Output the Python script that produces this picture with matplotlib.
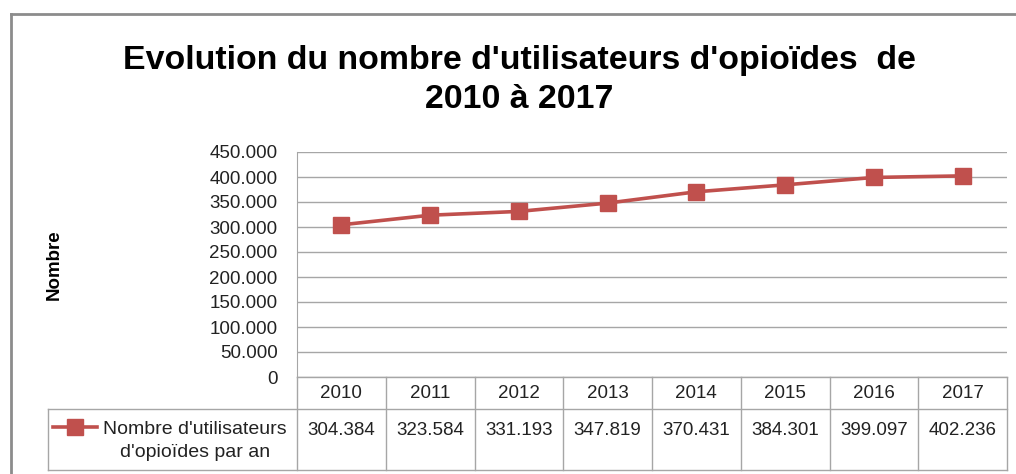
"""Excel-style line chart with data table: opioid users per year, 2010-2017."""

import numpy as np
import matplotlib
matplotlib.use("Agg")
import matplotlib.pyplot as plt
from matplotlib import font_manager
from matplotlib.lines import Line2D
from matplotlib.transforms import blended_transform_factory
from matplotlib.ticker import FuncFormatter

# ── data ────────────────────────────────────────────────────────────────
years = ["2010", "2011", "2012", "2013", "2014", "2015", "2016", "2017"]
users = [304384, 323584, 331193, 347819, 370431, 384301, 399097, 402236]
series_label = "Nombre d'utilisateurs\nd'opioïdes par an"
title = "Evolution du nombre d'utilisateurs d'opioïdes  de\n2010 à 2017"
ylabel = "Nombre"

# ── style ───────────────────────────────────────────────────────────────
RED = "#C0504D"
GRID = "#A6A6A6"
W, H = 1016, 474

avail = {f.name for f in font_manager.fontManager.ttflist}
BODY = "Liberation Sans" if "Liberation Sans" in avail else "DejaVu Sans"
TITLE_FONT = "Liberation Sans Narrow" if "Liberation Sans Narrow" in avail else BODY
plt.rcParams["font.family"] = [BODY, "DejaVu Sans"]


def fmt(v):
    return f"{int(v):,}".replace(",", ".")


def px(x, y):
    """pixel (from top-left) -> figure fraction"""
    return x / W, 1 - y / H


fig = plt.figure(figsize=(W / 100, H / 100), dpi=100)

# plot area in pixels: x 297..1007, y 152..377
L, R, T, B = 297, 1007, 152, 377
ax = fig.add_axes([L / W, 1 - B / H, (R - L) / W, (B - T) / H])

x = np.arange(len(years))
ax.plot(x, users, color=RED, lw=2.6, marker="s", ms=12, mec=RED, mfc=RED, zorder=3)

ax.set_xlim(-0.5, len(years) - 0.5)
ax.set_ylim(0, 450000)
ax.set_yticks(np.arange(0, 450001, 50000))
ax.yaxis.set_major_formatter(FuncFormatter(lambda v, _: fmt(v)))
ax.tick_params(axis="y", length=0, pad=14, labelsize=13.5, labelcolor="#222222")
ax.set_xticks([])
ax.grid(axis="y", color=GRID, lw=1)
for s in ["top", "right", "bottom"]:
    ax.spines[s].set_visible(False)
ax.spines["left"].set_color(GRID)
ax.set_ylabel(ylabel, fontsize=13.5, fontweight="bold", labelpad=0)
ax.yaxis.set_label_coords(-(L - 63) / (R - L), 0.5)

# ── data table below the axes ───────────────────────────────────────────
tr = blended_transform_factory(ax.transData, ax.transAxes)
ph = B - T
row1 = -(409 - B) / ph          # bottom of year row
row2 = -(470 - B) / ph          # bottom of value row
leg_x = -0.5 - (L - 48) / ((R - L) / len(years))

tbl = dict(color=GRID, lw=1, transform=tr, clip_on=False)
ax.add_line(Line2D([-0.5, len(years) - 0.5], [0, 0], **tbl))
ax.add_line(Line2D([leg_x, len(years) - 0.5], [row1, row1], **tbl))
ax.add_line(Line2D([leg_x, len(years) - 0.5], [row2, row2], **tbl))
ax.add_line(Line2D([leg_x, leg_x], [row1, row2], **tbl))
for i in range(len(years) + 1):
    ax.add_line(Line2D([i - 0.5, i - 0.5], [0, row2], **tbl))

for i, (yr, v) in enumerate(zip(years, users)):
    ax.text(i, row1 / 2, yr, transform=tr, ha="center", va="center",
            fontsize=13.5, color="#222222")
    ax.text(i, -(431 - B) / ph, fmt(v), transform=tr, ha="center", va="center",
            fontsize=13.5, color="#222222")

# legend key inside the table
ky = -(427 - B) / ph
kx0 = leg_x + (53 - 48) / 88.75
kx1 = leg_x + (97 - 48) / 88.75
ax.add_line(Line2D([kx0, kx1], [ky, ky], color=RED, lw=2.6, transform=tr, clip_on=False))
ax.add_line(Line2D([(kx0 + kx1) / 2], [ky], color=RED, marker="s", ms=12,
                   transform=tr, clip_on=False))
ax.text(leg_x + (195 - 48) / 88.75, -(441 - B) / ph, series_label, transform=tr,
        ha="center", va="center", fontsize=14, color="#222222", linespacing=1.4)

# ── title and outer chart border ────────────────────────────────────────
fig.text(*px(519, 80), title, ha="center", va="center", fontsize=24.4,
         fontweight="bold", family=[TITLE_FONT, "DejaVu Sans"], linespacing=1.3)
fig.add_artist(Line2D([11 / W, 11 / W], [0, 1 - 14 / H], color="#8C8C8C", lw=2,
                      transform=fig.transFigure))
fig.add_artist(Line2D([11 / W, 1], [1 - 14 / H, 1 - 14 / H], color="#8C8C8C", lw=2,
                      transform=fig.transFigure))

fig.savefig("out.png", dpi=100)
